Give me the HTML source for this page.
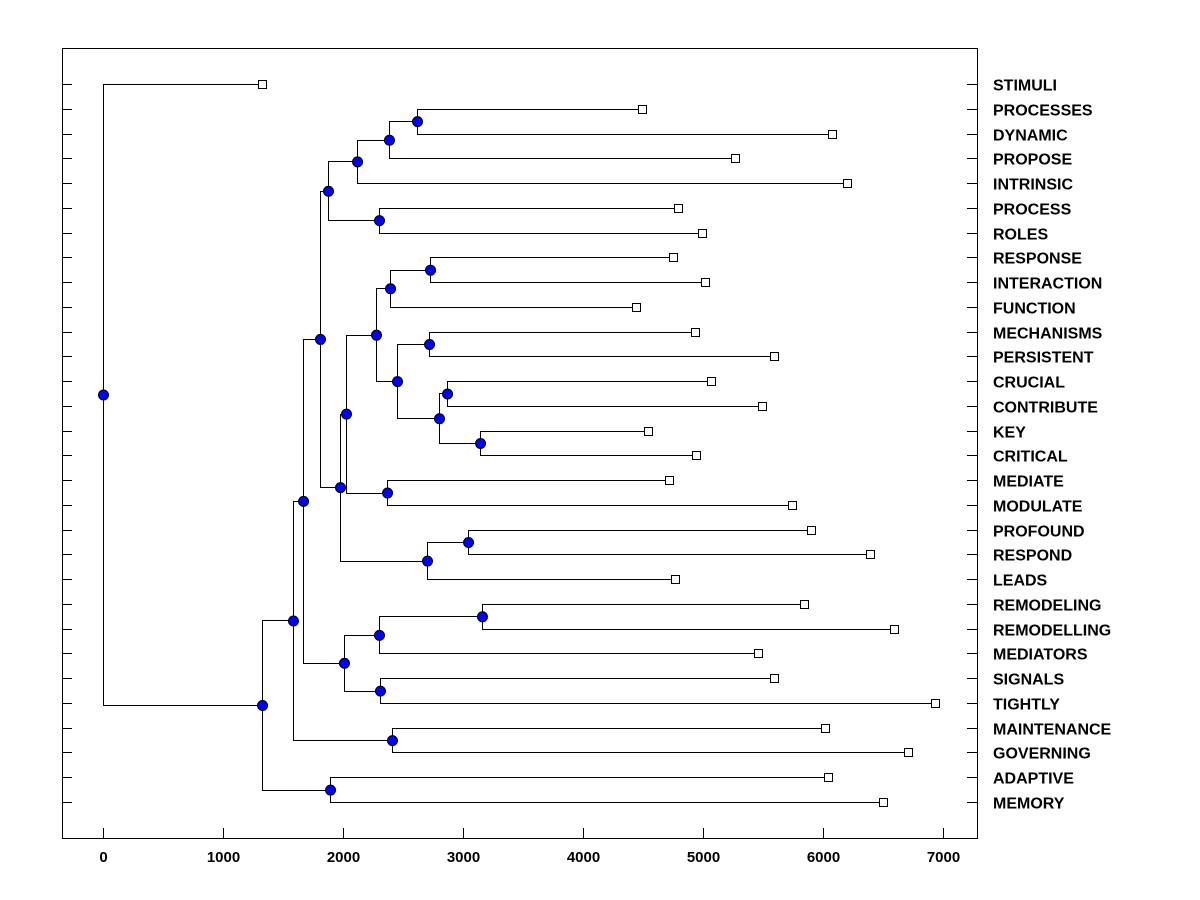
<!DOCTYPE html>
<html><head><meta charset="utf-8"><style>
html,body{margin:0;padding:0;background:#fff;}
svg{display:block;font-family:"Liberation Sans",Arial,sans-serif;}
</style></head><body>
<svg id="chart" width="1200" height="900" viewBox="0 0 1200 900" xmlns="http://www.w3.org/2000/svg">
<rect x="0" y="0" width="1200" height="900" fill="#fff"/>
<rect x="62.5" y="48.5" width="915" height="790" fill="none" stroke="#000" stroke-width="1"/>
<g id="axes"></g>
<g id="links"></g>
<g id="marks"></g>
</svg>
<script>
const leafNames = ["STIMULI","PROCESSES","DYNAMIC","PROPOSE","INTRINSIC","PROCESS","ROLES","RESPONSE","INTERACTION","FUNCTION","MECHANISMS","PERSISTENT","CRUCIAL","CONTRIBUTE","KEY","CRITICAL","MEDIATE","MODULATE","PROFOUND","RESPOND","LEADS","REMODELING","REMODELLING","MEDIATORS","SIGNALS","TIGHTLY","MAINTENANCE","GOVERNING","ADAPTIVE","MEMORY"];
const leafValues = [1325,4492,6075,5267,6200,4792,4992,4750,5017,4442,4933,5592,5067,5492,4542,4942,4717,5742,5900,6392,4767,5842,6592,5458,5592,6933,6017,6708,6042,6500];
const mergeLeft  = [1,30,31,5,32,7,35,10,12,14,38,37,36,16,42,18,45,44,34,21,49,24,50,48,26,53,28,55,0];
const mergeRight = [2,3,4,6,33,8,9,11,13,15,39,40,41,17,43,19,20,46,47,22,23,25,51,52,27,54,29,56,57];
const mergeHeight = [2617,2383,2117,2300,1875,2725,2392,2717,2867,3142,2800,2450,2275,2367,2025,3042,2700,1975,1808,3158,2300,2308,2008,1667,2408,1583,1892,1325,0];
const xTicks = [0,1000,2000,3000,4000,5000,6000,7000];

const NS = "http://www.w3.org/2000/svg";
const xScale = v => 103 + v * 0.12;
const yScale = i => 84 + i * (802 - 84) / (leafNames.length - 1);
function mk(tag, attrs, parent){const e=document.createElementNS(NS,tag);for(const k in attrs)e.setAttribute(k,attrs[k]);parent.appendChild(e);return e;}
const axes=document.getElementById('axes'), links=document.getElementById('links'), marks=document.getElementById('marks');

xTicks.forEach(t=>{
  const x=Math.round(xScale(t))+0.5;
  const tk=mk('line',{x1:x,x2:x,y1:838,y2:828,stroke:'#000'},axes);
  
  
  const tl=mk('text',{x:x,y:862,'text-anchor':'middle','font-size':15,'font-weight':'bold',fill:'#000'},axes);
  tl.textContent=t;
  
  
});

const nodeX=[], nodeY=[];
leafNames.forEach((n,i)=>{
  nodeX[i]=xScale(leafValues[i]); nodeY[i]=yScale(i);
  const y=Math.round(nodeY[i])+0.5;
  const lt=mk('line',{x1:62,x2:72,y1:y,y2:y,stroke:'#000'},axes);
  
  
  const rt=mk('line',{x1:967,x2:977,y1:y,y2:y,stroke:'#000'},axes);
  
  
  const lb=mk('text',{x:993,y:y+6,'font-size':16,'font-weight':'bold',fill:'#000'},axes);
  lb.textContent=n;
  
  
});

mergeHeight.forEach((h,k)=>{
  const id=leafNames.length+k, a=mergeLeft[k], b=mergeRight[k];
  const x=Math.round(xScale(h))+0.5;
  nodeX[id]=xScale(h); nodeY[id]=(nodeY[a]+nodeY[b])/2;
  const p=mk('path',{d:`M${Math.round(nodeX[a])} ${Math.round(nodeY[a])+0.5}H${x}V${Math.round(nodeY[b])+0.5}H${Math.round(nodeX[b])}`,fill:'none',stroke:'#000','stroke-width':1},links);
  
  
});

leafNames.forEach((n,i)=>{
  const s=mk('rect',{x:Math.round(nodeX[i])-3.5,y:Math.round(nodeY[i])-3.5,width:8,height:8,fill:'#fff',stroke:'#000'},marks);
  
  
});
mergeHeight.forEach((h,k)=>{
  const id=leafNames.length+k;
  const c=mk('circle',{cx:nodeX[id]+0.5,cy:nodeY[id]+0.5,r:5,fill:'#0000ff',stroke:'#000','stroke-width':1},marks);
  
  
});
</script>
</body></html>
